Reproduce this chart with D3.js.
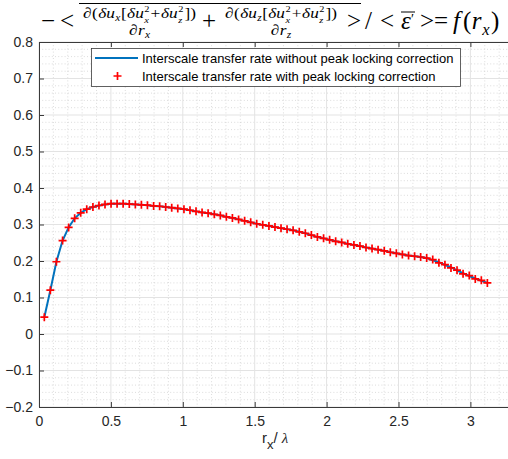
<!DOCTYPE html>
<html>
<head>
<meta charset="utf-8">
<script src="https://cdn.jsdelivr.net/npm/d3@7"></script>
<style>
  html, body { margin: 0; padding: 0; background: #fff; }
  svg { display: block; }
  text { font-family: "Liberation Sans", Arial, Helvetica, sans-serif; }
  .math text { font-family: "Liberation Serif", "Times New Roman", serif; fill: #000; }
</style>
</head>
<body>
<div id="chart"></div>
<script>
// ---------------- data ----------------
const rx = [0.037,0.079,0.121,0.164,0.206,0.248,0.290,0.332,0.375,0.417,
            0.459,0.501,0.543,0.585,0.628,0.670,0.712,0.754,0.797,0.839,
            0.881,0.923,0.965,1.008,1.050,1.092,1.134,1.176,1.219,1.261,
            1.303,1.345,1.388,1.430,1.472,1.514,1.556,1.599,1.641,1.683,
            1.725,1.767,1.810,1.852,1.894,1.936,1.979,2.021,2.063,2.105,
            2.147,2.190,2.232,2.274,2.316,2.358,2.401,2.443,2.485,2.527,
            2.570,2.612,2.654,2.696,2.738,2.781,2.823,2.865,2.907,2.949,
            2.992,3.034,3.076,3.118];
const rateWithout = [0.046,0.120,0.198,0.256,0.292,0.317,0.332,0.342,0.348,0.352,
            0.355,0.357,0.357,0.357,0.356,0.355,0.354,0.353,0.351,0.350,
            0.348,0.346,0.344,0.342,0.339,0.336,0.333,0.331,0.328,0.325,
            0.321,0.318,0.314,0.310,0.306,0.302,0.299,0.296,0.293,0.290,
            0.287,0.284,0.280,0.276,0.271,0.266,0.262,0.258,0.254,0.251,
            0.247,0.244,0.241,0.237,0.234,0.231,0.228,0.224,0.221,0.218,
            0.215,0.213,0.211,0.208,0.202,0.197,0.189,0.183,0.174,0.167,
            0.159,0.152,0.146,0.140];
const rateWith = [0.046,0.120,0.198,0.256,0.292,0.317,0.332,0.342,0.348,0.352,
            0.355,0.357,0.357,0.357,0.356,0.355,0.354,0.353,0.351,0.350,
            0.348,0.346,0.344,0.342,0.339,0.336,0.333,0.331,0.328,0.325,
            0.321,0.318,0.314,0.310,0.306,0.302,0.299,0.296,0.293,0.290,
            0.287,0.284,0.280,0.276,0.271,0.266,0.262,0.258,0.254,0.251,
            0.247,0.244,0.241,0.237,0.234,0.231,0.228,0.224,0.221,0.218,
            0.215,0.213,0.211,0.208,0.204,0.195,0.190,0.181,0.175,0.165,
            0.160,0.151,0.147,0.140];
const xTicks = [0, 0.5, 1, 1.5, 2, 2.5, 3];
const yTicks = [-0.2, -0.1, 0, 0.1, 0.2, 0.3, 0.4, 0.5, 0.6, 0.7, 0.8];
const legendLabels = ["Interscale transfer rate without peak locking correction",
                      "Interscale transfer rate with peak locking correction"];

// ---------------- layout ----------------
const W = 508, H = 459;
const pLeft = 39, pTop = 42, pBottom = 407;
const unitX = 143.8;
const x = d3.scaleLinear().domain([0, 3.5]).range([pLeft, pLeft + 3.5 * unitX]);
const y = d3.scaleLinear().domain([-0.2, 0.8]).range([pBottom, pTop]);
const pRight = x(3.5);

const svg = d3.select("#chart").append("svg").attr("width", W).attr("height", H);

// minor grid
const xMinor = d3.range(0, 3.51, 0.1).filter(v => Math.abs(v * 2 - Math.round(v * 2)) > 1e-6);
const yMinor = d3.range(-0.2, 0.801, 0.02).filter(v => Math.abs(v * 10 - Math.round(v * 10)) > 1e-6);
const grid = svg.append("g");
grid.selectAll(".xm").data(xMinor).join("line")
  .attr("x1", d => x(d)).attr("x2", d => x(d)).attr("y1", pTop).attr("y2", pBottom)
  .attr("stroke", "#c4c4c4").attr("stroke-width", 0.6).attr("stroke-dasharray", "1,2.2");
grid.selectAll(".ym").data(yMinor).join("line")
  .attr("x1", pLeft).attr("x2", pRight).attr("y1", d => y(d)).attr("y2", d => y(d))
  .attr("stroke", "#c4c4c4").attr("stroke-width", 0.6).attr("stroke-dasharray", "1,2.2");
// major grid
grid.selectAll(".xM").data(xTicks).join("line")
  .attr("x1", d => x(d)).attr("x2", d => x(d)).attr("y1", pTop).attr("y2", pBottom)
  .attr("stroke", "#e3e3e3").attr("stroke-width", 1);
grid.selectAll(".yM").data(yTicks).join("line")
  .attr("x1", pLeft).attr("x2", pRight).attr("y1", d => y(d)).attr("y2", d => y(d))
  .attr("stroke", "#e3e3e3").attr("stroke-width", 1);

// axes
const fmt = d => (Math.abs(d) < 1e-9 ? "0" : d3.format("")(+d.toFixed(1)));
const xAxis = svg.append("g").attr("transform", `translate(0,${pBottom})`)
  .call(d3.axisBottom(x).tickValues(xTicks).tickSize(-5).tickPadding(9).tickFormat(fmt));
const yAxis = svg.append("g").attr("transform", `translate(${pLeft},0)`)
  .call(d3.axisLeft(y).tickValues(yTicks).tickSize(-5).tickPadding(6).tickFormat(fmt));
const topAxis = svg.append("g").attr("transform", `translate(0,${pTop})`)
  .call(d3.axisTop(x).tickValues(xTicks).tickSize(-5).tickFormat(""));
[xAxis, yAxis, topAxis].forEach(g => {
  g.select(".domain").attr("stroke", "#3a3a3a").attr("stroke-width", 1);
  g.selectAll(".tick line").attr("stroke", "#3a3a3a");
  g.selectAll(".tick text").attr("fill", "#262626").style("font-size", "14px")
    .style("font-family", "'Liberation Sans', Arial, sans-serif");
});
topAxis.selectAll(".tick text").remove();

// x label
const xl = svg.append("text").attr("x", 262).attr("y", 443).attr("fill", "#262626")
  .style("font-size", "15px");
xl.append("tspan").text("r");
xl.append("tspan").attr("dy", 6).style("font-size", "13px").text("x");
xl.append("tspan").attr("dy", -6).text("/ ");
xl.append("tspan").style("font-family", "'Liberation Serif', serif").style("font-style", "italic").text("λ");

// data line + markers
const line = d3.line().x((d, i) => x(rx[i])).y(d => y(d));
svg.append("path").datum(rateWithout).attr("d", line)
  .attr("fill", "none").attr("stroke", "#0072BD").attr("stroke-width", 2);
const ms = 4;
svg.append("g").selectAll("path").data(rateWith).join("path")
  .attr("d", (d, i) => {
    const cx = x(rx[i]), cy = y(d);
    return `M${cx - ms},${cy}H${cx + ms}M${cx},${cy - ms}V${cy + ms}`;
  })
  .attr("stroke", "#ff0000").attr("stroke-width", 1.7).attr("fill", "none");

// legend
const lg = svg.append("g");
lg.append("rect").attr("x", 91.5).attr("y", 48.5).attr("width", 369).attr("height", 38)
  .attr("fill", "#fff").attr("stroke", "#3a3a3a").attr("stroke-width", 0.8);
lg.append("line").attr("x1", 95).attr("x2", 138).attr("y1", 58).attr("y2", 58)
  .attr("stroke", "#0072BD").attr("stroke-width", 2);
lg.append("path").attr("d", `M${117.5 - ms},76H${117.5 + ms}M117.5,${76 - ms}V${76 + ms}`)
  .attr("stroke", "#ff0000").attr("stroke-width", 1.7);
lg.selectAll("text.lab").data(legendLabels).join("text")
  .attr("x", 142).attr("y", (d, i) => 58 + i * 18).attr("dy", "0.35em")
  .attr("fill", "#000").style("font-size", "13px").text(d => d);

// ---------------- title (math) ----------------
const math = svg.append("g").attr("class", "math");
function mathRow(g, parts, size) {
  let cx = 0, prevStart = 0;
  parts.forEach(p => {
    const fs = size * (p.s || 1);
    let sx = p.stack ? prevStart : cx;
    if (p.at !== undefined) sx = p.at;
    const t = g.append("text").attr("x", sx).attr("y", (p.dy || 0) * size)
      .style("font-size", fs + "px").style("font-style", p.i ? "italic" : "normal").text(p.t);
    const w = t.node().getComputedTextLength();
    if (p.stack) cx = Math.max(cx, sx + w);
    else { prevStart = sx; cx = sx + w; }
    cx += (p.gap || 0) * size;
  });
  return cx;
}
function numParts(v) {
  return [
    {t: "∂", gap: 0.03}, {t: "(", gap: 0.02}, {t: "δu", i: true, gap: 0.02}, {t: v, i: true, s: 0.66, dy: 0.22, gap: 0.04},
    {t: "[", gap: 0.02}, {t: "δu", i: true, gap: 0.03}, {t: "2", s: 0.6, dy: -0.42},
    {t: "x", i: true, s: 0.6, dy: 0.3, stack: true, gap: 0.06},
    {t: "+", gap: 0.04}, {t: "δu", i: true, gap: 0.03}, {t: "2", s: 0.6, dy: -0.42},
    {t: "z", i: true, s: 0.6, dy: 0.3, stack: true, gap: 0.06},
    {t: "])"}
  ];
}
const fracSize = 15;
function fraction(v, startX, targetW) {
  const gN = math.append("g");
  const wN = mathRow(gN, numParts(v), fracSize);
  const k = targetW / wN;
  gN.attr("transform", `translate(${startX},18) scale(${k},1)`);
  const gD = math.append("g");
  const wD = mathRow(gD, [{t: "∂", gap: 0.03}, {t: "r", i: true, gap: 0.02}, {t: v, i: true, s: 0.66, dy: 0.22}], fracSize);
  gD.attr("transform", `translate(${startX + (targetW - wD * k) / 2},35) scale(${k},1)`);
  return targetW;
}
const mainSize = 25;
const g0 = math.append("g").attr("transform", "translate(0,29)");
mathRow(g0, [{t: "−", at: 41}, {t: "<", at: 60}], mainSize);
fraction("x", 83, 113);
const gp = math.append("g").attr("transform", "translate(0,29)");
mathRow(gp, [{t: "+", at: 202}], mainSize);
fraction("z", 225, 112);
math.append("line").attr("x1", 79).attr("x2", 361).attr("y1", 3.5).attr("y2", 3.5)
  .attr("stroke", "#000").attr("stroke-width", 1);
const gr = math.append("g").attr("transform", "translate(0,29)");
mathRow(gr, [
  {t: ">", at: 347}, {t: "/", at: 365}, {t: "<", at: 380},
  {t: "ε", i: true, at: 401}, {t: "′", s: 0.55, dy: -0.2, at: 411},
  {t: ">", at: 420}, {t: "=", at: 434},
  {t: "f", i: true, at: 453, gap: 0.12}, {t: "(", gap: 0.02}, {t: "r", i: true, gap: 0.03},
  {t: "x", i: true, s: 0.66, dy: 0.22, gap: 0.06}, {t: ")"}
], mainSize);
math.append("line").attr("x1", 401).attr("x2", 415).attr("y1", 12).attr("y2", 12)
  .attr("stroke", "#000").attr("stroke-width", 1);
</script>
</body>
</html>
